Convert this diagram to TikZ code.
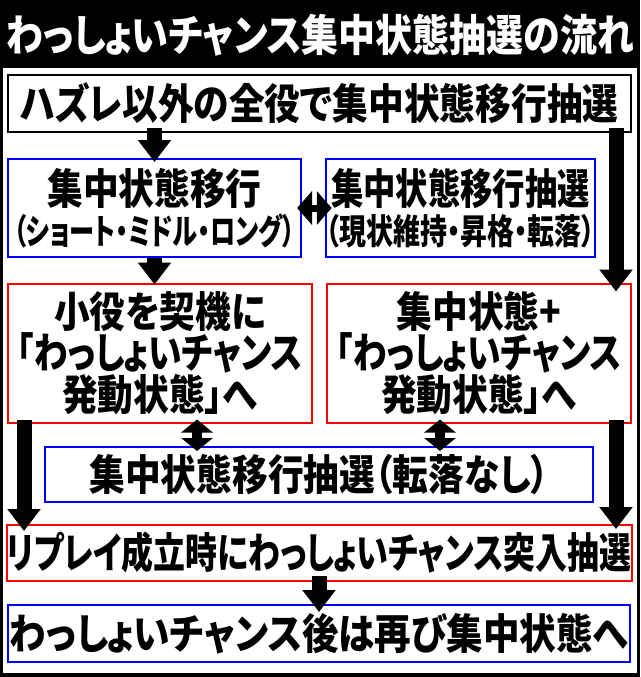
\documentclass[tikz,border=0pt]{standalone}
\usepackage{fontspec}
\setmainfont{Noto Sans CJK JP}[FakeStretch=0.85,RawFeature=+palt,BoldFont={Noto Sans CJK JP Black}]
\usetikzlibrary{arrows.meta}
\newcommand{\narrow}[2]{{\addfontfeature{FakeStretch=#1}#2}}

\begin{document}
\begin{tikzpicture}[x=1pt, y=-1pt, font=\bfseries]
    \tikzset{
      box/.style={draw, line width=2pt, inner sep=0pt, align=center, font=\bfseries\fontsize{42}{38}\selectfont},
      flow/.style={line width=15pt, -{Triangle[width=32pt,length=22pt]}},
      both/.style={line width=10pt, {Triangle[width=31pt,length=13pt]}-{Triangle[width=31pt,length=13pt]}},
    }
    \useasboundingbox (0,0) rectangle (640,677);
    % background and frame
    \fill[black] (0,0) rectangle (640,677);
    \fill[white] (3,68) rectangle (637,673);
    \node[text=white, font=\bfseries\fontsize{43.5}{44}\selectfont] (title) at (320,35) {わっしょいチャンス集中状態抽選の流れ};

    \node[box, minimum width=623pt, minimum height=57pt] (A) at (319.5,103.5) {ハズレ以外の全役で集中状態移行抽選};
    \node[box, blue, text=black, minimum width=293pt, minimum height=98pt] (B) at (154.5,208)
      {集中状態移行\\[2pt]{\fontsize{35}{34}\selectfont\narrow{0.72}{（ショート・ミドル・ロング）}}};
    \node[box, blue, text=black, minimum width=267pt, minimum height=98pt] (C) at (460.5,208)
      {\narrow{0.77}{集中状態移行抽選}\\[2pt]{\fontsize{35}{34}\selectfont\narrow{0.77}{（現状維持・昇格・転落）}}};
    \node[box, red, text=black, minimum width=304pt, minimum height=139pt] (D) at (160,353)
      {小役を契機に\\\narrow{0.8}{「わっしょいチャンス}\\発動状態」へ};
    \node[box, red, text=black, minimum width=304pt, minimum height=139pt] (E) at (479,353)
      {集中状態+\\\narrow{0.8}{「わっしょいチャンス}\\発動状態」へ};
    \node[box, blue, text=black, minimum width=548pt, minimum height=55pt] (F) at (319,474.5) {集中状態移行抽選（転落なし）};
    \node[box, red, text=black, minimum width=622pt, minimum height=56pt] (G) at (319,553) {\narrow{0.76}{リプレイ成立時にわっしょいチャンス突入抽選}};
    \node[box, blue, text=black, minimum width=622pt, minimum height=57pt] (H) at (319,633.5) {\narrow{0.87}{わっしょいチャンス後は再び集中状態へ}};

    \coordinate (dl) at ([xshift=37pt,yshift=4pt]D.south);
    \coordinate (dr) at ([xshift=-39pt,yshift=4pt]E.south);
    \coordinate (ar) at ([xshift=-16pt,yshift=5pt]A.south east);
    \coordinate (sl) at ([xshift=17pt,yshift=4pt]D.south west);
    \coordinate (sr) at ([xshift=-16pt,yshift=4pt]E.south east);

    \draw[flow] ([yshift=5pt]A.south -| B.north) -- ([yshift=-4pt]B.north);
    \draw[flow] (B.south) -- ([yshift=-2pt]D.north -| B.south);
    \draw[flow] (ar) -- ([yshift=-9pt]E.north -| ar);
    \draw[line width=7pt, {Triangle[width=33pt,length=15pt]}-{Triangle[width=33pt,length=15pt]}] ([xshift=-5pt]B.east) -- ([xshift=7pt]C.west);
    \draw[both] (dl) -- ([yshift=-5pt]F.north -| dl);
    \draw[both] (dr) -- ([yshift=-5pt]F.north -| dr);
    \draw[flow] (sl) -- ([yshift=-7pt]G.north -| sl);
    \draw[flow] (sr) -- ([yshift=-5pt]G.north -| sr);
    \draw[flow] ([yshift=6pt]G.south) -- ([yshift=-8pt]H.north);
  \end{tikzpicture}
\end{document}
